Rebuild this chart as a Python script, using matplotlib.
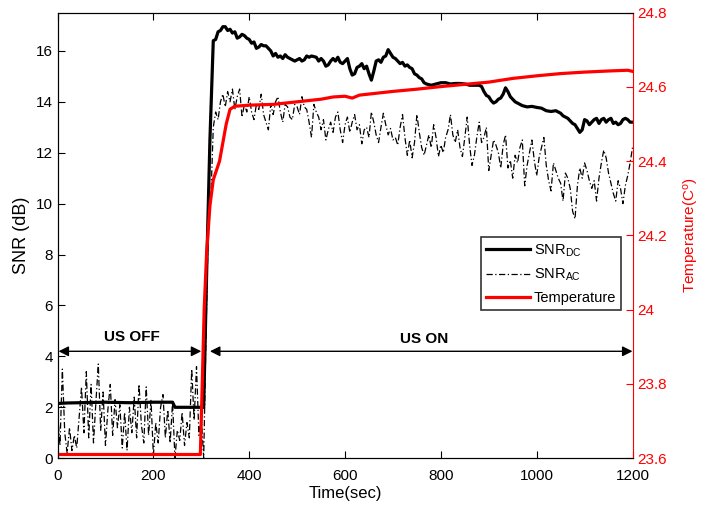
import numpy as np
import matplotlib
matplotlib.use('Agg')
import matplotlib.pyplot as plt
from matplotlib.ticker import FixedLocator, FixedFormatter

plt.rcParams['font.family'] = ['Liberation Sans', 'DejaVu Sans']
plt.rcParams['mathtext.default'] = 'regular'

# SNR_AC, sampled every 5 s from 0 to 1200 s
snr_ac = [1.8, 0.5, 3.5, 1.0, 0.2, 1.2, 0.3, 0.9, 0.4, 1.6,
          2.8, 1.0, 3.4, 0.8, 2.9, 0.6, 2.2, 3.7, 1.1, 2.6,
          0.5, 1.9, 2.9, 0.9, 2.3, 1.2, 2.1, 0.4, 1.8, 0.3,
          2.0, 1.0, 2.4, 0.8, 2.9, 1.3, 0.6, 2.8, 0.9, 2.3,
          0.1, 1.4, 0.6, 2.0, 2.5, 0.8, 1.9, 0.6, 2.2, 0.0,
          1.1, 0.7, 1.8, 0.5, 1.4, 0.8, 3.5, 1.5, 3.6, 0.9,
          1.6,
          0.0, 5.0, 9.5, 10.2, 13.0, 13.6, 13.3, 14.0, 14.3, 13.8,
          14.4, 14.0, 14.5, 13.7, 14.2, 14.5, 13.4, 13.9, 13.6, 14.2,
          13.6, 13.3, 13.9, 13.7, 14.3, 13.5, 13.2, 12.9, 13.9, 13.5,
          14.0, 14.2, 13.6, 13.2, 13.9, 13.8, 13.4, 13.3, 13.9, 13.8,
          13.5, 14.2, 13.8, 13.7, 13.2, 12.6, 13.9, 13.6, 13.4, 12.9,
          13.3, 12.5, 12.9, 13.2, 12.8, 13.4, 13.6, 12.9, 12.4, 13.1,
          13.4, 12.8, 13.2, 13.5, 12.9, 13.1, 12.35, 12.9, 13.0, 12.6,
          13.6, 13.2, 12.7, 12.4, 13.0, 13.55, 13.1, 12.7, 12.95, 12.5,
          12.6, 12.3, 13.0, 13.5, 12.6, 11.9, 12.5, 11.8, 12.4, 13.5,
          12.8, 12.2, 11.9, 12.3, 12.7, 12.2, 13.1, 12.6, 11.85, 12.3,
          12.0, 12.6, 12.9, 13.5, 12.7, 12.4, 12.9, 12.2, 11.85, 12.6,
          13.4, 12.3, 11.5, 11.9, 12.6, 13.2, 12.4, 12.6, 13.0, 11.3,
          11.9, 12.5, 12.3, 12.0, 11.4, 12.3, 12.7, 11.4, 11.7, 11.0,
          11.9, 11.6, 12.2, 12.5, 10.7, 11.5, 12.0, 12.5, 11.7, 11.1,
          11.8, 12.2, 12.6, 11.5, 10.9, 10.5, 11.6, 11.3, 11.0, 10.8,
          10.1, 11.2, 11.0, 10.6, 9.7, 9.4, 10.7, 11.4, 11.0, 11.6,
          11.3, 10.9, 10.6, 10.9, 10.1, 11.0, 11.6, 12.1, 11.8, 11.2,
          10.8, 10.4, 10.1, 10.9, 10.6, 10.0, 10.7, 11.1, 11.6, 12.2]
t_ac = np.linspace(0, 1200, len(snr_ac))

# SNR_DC
t_dc = [0, 20, 50, 100, 150, 200, 240, 245, 300, 305, 312, 318, 325, 330, 335,
        340, 345, 350, 355, 360, 365, 370, 375, 380, 385, 390, 395, 400, 405,
        410, 415, 420, 425, 430, 435, 440, 445, 450, 455, 460, 465, 470, 475,
        480, 485, 490, 495, 500, 505, 510, 515, 520, 525, 530, 540, 545, 550,
        555, 560, 565, 570, 575, 580, 585, 590, 595, 600, 605, 610, 615, 620,
        625, 630, 635, 640, 645, 650, 655, 660, 665, 670, 675, 680, 685, 690,
        695, 700, 705, 710, 715, 720, 725, 730, 735, 740, 745, 750, 755, 760,
        765, 770, 780, 790, 800, 810, 820, 830, 840, 850, 855, 860, 870, 880,
        885, 890, 895, 900, 905, 910, 915, 920, 925, 930, 935, 940, 945, 950,
        955, 960, 970, 980, 990, 1000, 1010, 1020, 1030, 1040, 1050, 1055,
        1060, 1065, 1070, 1075, 1080, 1085, 1090, 1095, 1100, 1105, 1110, 1115,
        1120, 1125, 1130, 1135, 1140, 1145, 1150, 1155, 1160, 1165, 1170, 1175,
        1180, 1185, 1190, 1195, 1200]
snr_dc = [2.15, 2.17, 2.18, 2.2, 2.18, 2.2, 2.2, 2.0, 2.0, 2.0, 8.0, 12.5, 16.4,
          16.45, 16.75, 16.8, 16.95, 16.95, 16.8, 16.85, 16.7, 16.75, 16.5,
          16.55, 16.65, 16.6, 16.5, 16.45, 16.3, 16.35, 16.1, 16.15, 16.25,
          16.2, 16.2, 16.1, 16.0, 15.8, 15.9, 15.75, 15.8, 15.7, 15.85, 15.75,
          15.7, 15.65, 15.6, 15.65, 15.7, 15.6, 15.65, 15.8, 15.75, 15.8,
          15.75, 15.6, 15.7, 15.6, 15.4, 15.45, 15.6, 15.7, 15.6, 15.75, 15.55,
          15.5, 15.6, 15.7, 15.3, 15.05, 15.1, 15.35, 15.4, 15.5, 15.3, 15.4,
          15.1, 14.85, 15.2, 15.6, 15.65, 15.55, 15.75, 15.8, 16.05, 15.9,
          15.75, 15.7, 15.6, 15.5, 15.55, 15.4, 15.45, 15.35, 15.3, 15.1,
          15.05, 14.95, 14.9, 14.75, 14.7, 14.65, 14.7, 14.75, 14.75, 14.7,
          14.72, 14.72, 14.7, 14.68, 14.65, 14.65, 14.65, 14.6, 14.4, 14.25,
          14.2, 14.05, 13.95, 14.0, 14.1, 14.15, 14.3, 14.55, 14.4, 14.2, 14.1,
          14.0, 13.95, 13.85, 13.8, 13.82, 13.78, 13.75, 13.65, 13.62, 13.65,
          13.55, 13.45, 13.4, 13.35, 13.25, 13.15, 13.1, 12.95, 12.8, 12.9,
          13.3, 13.25, 13.1, 13.2, 13.3, 13.35, 13.15, 13.3, 13.35, 13.2, 13.3,
          13.35, 13.15, 13.2, 13.1, 13.15, 13.3, 13.35, 13.3, 13.2, 13.2]

# temperature
t_temp = [0, 298, 302, 306, 311, 318, 325, 338, 345, 352, 360, 370, 400, 450,
          500, 550, 575, 600, 615, 630, 700, 750, 800, 850, 900, 950, 1000,
          1050, 1100, 1150, 1190, 1200]
temp = [23.61, 23.61, 23.8, 24.0, 24.15, 24.28, 24.35, 24.40, 24.45, 24.50,
        24.54, 24.548, 24.551, 24.553, 24.56, 24.567, 24.573, 24.575, 24.57,
        24.578, 24.588, 24.594, 24.601, 24.607, 24.613, 24.623, 24.63, 24.636,
        24.64, 24.643, 24.645, 24.642]

right_ticks = [23.6, 23.8, 24.0, 24.2, 24.4, 24.6, 24.8]
right_labels = ['23.6', '23.8', '24', '24.2', '24.4', '24.6', '24.8']

fig = plt.figure(figsize=(7.02, 5.08), dpi=100)
ax = fig.add_axes([0.082, 0.098, 0.819, 0.877])
ax2 = ax.twinx()

l_dc, = ax.plot(t_dc, snr_dc, color='black', lw=2.3, label='SNR$_{DC}$')
l_ac, = ax.plot(t_ac, snr_ac, color='black', lw=0.9, dashes=(5, 2, 1, 2),
                label='SNR$_{AC}$')
l_t, = ax2.plot(t_temp, temp, color='red', lw=2.3, label='Temperature')

ax.set_xlim(0, 1200)
ax.set_ylim(0, 17.5)
ax.set_xticks([0, 200, 400, 600, 800, 1000, 1200])
ax.set_yticks([0, 2, 4, 6, 8, 10, 12, 14, 16])
ax.tick_params(direction='in', top=True, right=False, labelsize=11, length=5)
ax.tick_params(axis='x', pad=8)
ax.set_xlabel('Time(sec)', fontsize=12, labelpad=2)
ax.set_ylabel('SNR (dB)', fontsize=13, labelpad=4)
ax.spines['right'].set_visible(False)

ax2.set_ylim(23.6, 24.8)
ax2.yaxis.set_major_locator(FixedLocator(right_ticks))
ax2.yaxis.set_major_formatter(FixedFormatter(right_labels))
ax2.tick_params(direction='in', colors='red', labelsize=11, length=5)
ax2.spines['right'].set_color('red')
ax2.set_ylabel('Temperature(C$^o$)', color='red', fontsize=11, labelpad=11)

# US OFF / US ON arrows
ax.annotate('', xy=(2, 4.2), xytext=(300, 4.2),
            arrowprops=dict(arrowstyle='<|-|>', color='black', lw=1,
                            mutation_scale=15, shrinkA=0, shrinkB=0))
ax.text(155, 4.75, 'US OFF', ha='center', va='center', fontsize=11,
        fontweight='bold')
ax.annotate('', xy=(318, 4.2), xytext=(1200, 4.2),
            arrowprops=dict(arrowstyle='<|-|>', color='black', lw=1,
                            mutation_scale=15, shrinkA=0, shrinkB=0))
ax.text(765, 4.7, 'US ON', ha='center', va='center', fontsize=11,
        fontweight='bold')

leg = ax2.legend(handles=[l_dc, l_ac, l_t], loc='upper right',
                 bbox_to_anchor=(0.98, 0.496), fontsize=10.5, fancybox=False,
                 framealpha=1, edgecolor='#333333', handlelength=3.0,
                 handletextpad=0.25, borderpad=0.35, labelspacing=0.55,
                 borderaxespad=0)
leg.get_frame().set_linewidth(1.2)

fig.savefig('out.png', dpi=100)
